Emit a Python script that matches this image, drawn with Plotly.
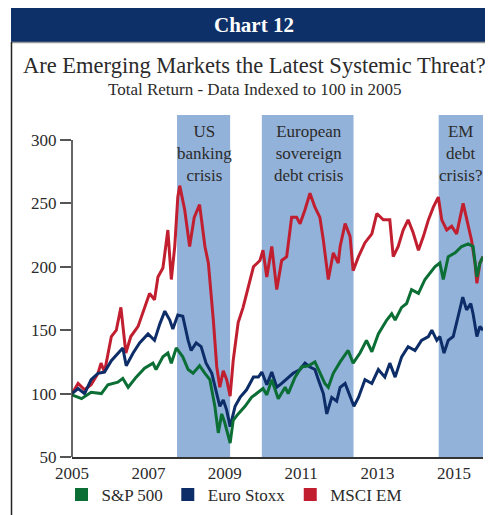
import plotly.graph_objects as go

# ---------------- data ----------------
series_names = ["S&P 500", "Euro Stoxx", "MSCI EM"]
series_colors = ["#0b6e35", "#0d2d69", "#c11f30"]

em_x = [2005.00, 2005.16, 2005.33, 2005.50, 2005.68, 2005.76, 2005.85, 2006.03, 2006.16, 2006.28,
        2006.41, 2006.54, 2006.73, 2006.90, 2007.03, 2007.16, 2007.25, 2007.38, 2007.51, 2007.60,
        2007.69, 2007.77, 2007.82, 2007.95, 2008.08, 2008.20, 2008.34, 2008.48, 2008.57, 2008.70,
        2008.79, 2008.87, 2008.96, 2009.05, 2009.14, 2009.22, 2009.35, 2009.48, 2009.62, 2009.75,
        2009.92, 2010.00, 2010.10, 2010.23, 2010.36, 2010.49, 2010.62, 2010.75, 2010.88, 2010.97,
        2011.10, 2011.23, 2011.36, 2011.49, 2011.58, 2011.71, 2011.84, 2011.97, 2012.02, 2012.15,
        2012.28, 2012.36, 2012.50, 2012.67, 2012.85, 2012.98, 2013.15, 2013.32, 2013.41, 2013.54,
        2013.67, 2013.80, 2013.93, 2014.07, 2014.20, 2014.33, 2014.46, 2014.59, 2014.68, 2014.81,
        2014.94, 2015.07, 2015.24, 2015.37, 2015.46, 2015.55, 2015.60, 2015.68, 2015.76]
em_y = [100, 108, 103, 107, 116, 124, 117, 145, 150, 168,
        132, 145, 153, 168, 179, 174, 192, 199, 229, 190,
        216, 255, 264, 245, 216, 239, 249, 216, 203, 158,
        121, 105, 118, 111, 98, 126, 156, 168, 184, 200,
        205, 213, 192, 216, 182, 205, 208, 239, 239, 234,
        245, 258, 247, 239, 221, 190, 211, 203, 216, 234,
        224, 197, 208, 219, 226, 242, 237, 237, 208, 216,
        229, 237, 227, 213, 224, 237, 247, 255, 237, 229,
        232, 226, 250, 234, 221, 203, 187, 203, 208]

eu_x = [2005.00, 2005.16, 2005.33, 2005.50, 2005.68, 2005.85, 2006.03, 2006.20, 2006.33, 2006.42,
        2006.60, 2006.77, 2006.99, 2007.16, 2007.30, 2007.43, 2007.56, 2007.64, 2007.77, 2007.90,
        2008.04, 2008.12, 2008.25, 2008.38, 2008.51, 2008.66, 2008.79, 2008.87, 2008.96, 2009.05,
        2009.14, 2009.27, 2009.40, 2009.57, 2009.75, 2009.88, 2009.97, 2010.10, 2010.23, 2010.36,
        2010.49, 2010.66, 2010.79, 2010.97, 2011.10, 2011.23, 2011.36, 2011.45, 2011.58, 2011.67,
        2011.80, 2011.93, 2012.02, 2012.15, 2012.28, 2012.38, 2012.50, 2012.67, 2012.85, 2013.02,
        2013.19, 2013.32, 2013.46, 2013.63, 2013.80, 2013.98, 2014.15, 2014.33, 2014.42, 2014.55,
        2014.63, 2014.74, 2014.85, 2014.98, 2015.11, 2015.23, 2015.33, 2015.44, 2015.50, 2015.60,
        2015.68, 2015.76]
eu_y = [100, 104, 100, 111, 116, 117, 126, 132, 136, 122,
        132, 140, 147, 142, 155, 165, 158, 151, 162, 161,
        142, 134, 140, 137, 124, 116, 100, 90, 95, 87,
        74, 90, 97, 103, 113, 113, 117, 107, 117, 105,
        108, 113, 116, 119, 124, 121, 119, 111, 100, 84,
        97, 94, 105, 108, 97, 90, 97, 111, 108, 119,
        113, 124, 113, 129, 137, 134, 142, 145, 150, 142,
        145, 132, 142, 145, 161, 176, 166, 171, 163, 145,
        153, 150]

sp_x = [2005.00, 2005.25, 2005.50, 2005.77, 2005.94, 2006.20, 2006.33, 2006.47, 2006.68, 2006.90,
        2007.12, 2007.20, 2007.38, 2007.51, 2007.60, 2007.73, 2007.90, 2008.04, 2008.17, 2008.34,
        2008.48, 2008.61, 2008.74, 2008.83, 2008.92, 2009.00, 2009.14, 2009.22, 2009.35, 2009.53,
        2009.70, 2009.88, 2010.00, 2010.10, 2010.23, 2010.40, 2010.58, 2010.66, 2010.84, 2011.01,
        2011.19, 2011.36, 2011.49, 2011.62, 2011.71, 2011.84, 2012.02, 2012.23, 2012.36, 2012.54,
        2012.71, 2012.85, 2013.02, 2013.24, 2013.37, 2013.46, 2013.63, 2013.76, 2013.89, 2014.07,
        2014.24, 2014.37, 2014.50, 2014.63, 2014.72, 2014.85, 2015.03, 2015.20, 2015.37, 2015.50,
        2015.60, 2015.68, 2015.76]
sp_y = [99, 96, 101, 100, 107, 109, 112, 105, 113, 120,
        124, 119, 129, 132, 124, 136, 129, 119, 116, 122,
        116, 111, 90, 69, 84, 77, 61, 79, 84, 90,
        97, 101, 104, 99, 111, 96, 105, 100, 113, 121,
        122, 125, 117, 108, 105, 116, 125, 134, 124, 132,
        142, 133, 147, 158, 163, 158, 168, 171, 182, 179,
        190, 195, 200, 203, 190, 208, 211, 216, 218, 216,
        192, 203, 208]

crisis_labels = ["US<br>banking<br>crisis", "European<br>sovereign<br>debt crisis", "EM<br>debt<br>crisis?"]
crisis_start = [2007.75, 2009.97, 2014.60]
crisis_end = [2009.14, 2012.37, 2015.76]
crisis_label_x = [2008.46, 2011.18, 2015.18]

year_ticks = [2005, 2007, 2009, 2011, 2013, 2015]
value_ticks = [50, 100, 150, 200, 250, 300]

title_text = "Are Emerging Markets the Latest Systemic Threat?"
subtitle_text = "Total Return - Data Indexed to 100 in 2005"
header_text = "Chart 12"

# ---------------- figure ----------------
SERIF = "Liberation Serif, Times New Roman, serif"
TXT = "#2b2b2b"
SHADE = "#93b2d9"
NAVY = "#0e3068"

fig = go.Figure()

xs = [sp_x, eu_x, em_x]
ys = [sp_y, eu_y, em_y]
# draw MSCI EM first, then Euro Stoxx, then S&P on top
for i in [2, 1, 0]:
    fig.add_trace(go.Scatter(x=xs[i], y=ys[i], mode="lines", name=series_names[i],
                             line=dict(color=series_colors[i], width=3),
                             showlegend=False, legendgroup=series_names[i]))
for i in range(3):
    fig.add_trace(go.Scatter(x=[None], y=[None], mode="markers", name=series_names[i],
                             marker=dict(symbol="square", size=13, color=series_colors[i]),
                             showlegend=True, legendgroup=series_names[i]))

y_top = 319.7
shapes = []
for s, e in zip(crisis_start, crisis_end):
    shapes.append(dict(type="rect", xref="x", yref="y", x0=s, x1=e, y0=50, y1=y_top,
                       fillcolor=SHADE, line=dict(width=0), layer="below"))

# y axis line only from 50 to 300
shapes.append(dict(type="line", xref="paper", yref="y", x0=0, x1=0, y0=50, y1=300,
                   line=dict(color="#333", width=1.5)))

# page pixel -> paper coords (plot area spans page px 72..483 x 115..457)
PW, PH = 411.0, 342.0
def px_x(p):
    return (p - 72) / PW
def px_y(p):
    return (457 - p) / PH

shapes.append(dict(type="rect", xref="paper", yref="paper", x0=px_x(11), x1=px_x(500),
                   y0=px_y(42), y1=px_y(5), fillcolor=NAVY, line=dict(width=0)))
shapes.append(dict(type="line", xref="paper", yref="paper", x0=px_x(11), x1=px_x(500),
                   y0=px_y(42.5), y1=px_y(42.5), line=dict(color="#9a9a9a", width=1.5)))
shapes.append(dict(type="line", xref="paper", yref="paper", x0=px_x(11.5), x1=px_x(11.5),
                   y0=px_y(42), y1=px_y(520), line=dict(color="#222", width=1.5)))

annotations = [
    dict(text="<b>" + header_text + "</b>", xref="paper", yref="paper", x=px_x(254), y=px_y(25),
         showarrow=False, font=dict(family=SERIF, size=21, color="white"),
         xanchor="center", yanchor="middle"),
    dict(text=title_text, xref="paper", yref="paper", x=px_x(254), y=px_y(66),
         showarrow=False, font=dict(family=SERIF, size=22.5, color=TXT),
         xanchor="center", yanchor="middle", borderpad=0),
    dict(text=subtitle_text, xref="paper", yref="paper", x=px_x(254), y=px_y(90),
         showarrow=False, font=dict(family=SERIF, size=17, color=TXT),
         xanchor="center", yanchor="middle", borderpad=0),
]
for lab, lx in zip(crisis_labels, crisis_label_x):
    annotations.append(dict(text=lab, xref="x", yref="paper", x=lx, y=px_y(153),
                            showarrow=False, align="center",
                            font=dict(family=SERIF, size=17, color=TXT),
                            xanchor="center", yanchor="middle"))

# the page body adds an 8px margin, so the figure is 8px smaller on each axis
fig.update_layout(
    width=485, height=507,
    margin=dict(l=64, r=10, t=107, b=58, autoexpand=False),
    paper_bgcolor="white", plot_bgcolor="white",
    font=dict(family=SERIF, size=17, color=TXT),
    shapes=shapes, annotations=annotations,
    showlegend=True,
    legend=dict(orientation="h", x=-0.0255, y=px_y(495), xanchor="left", yanchor="middle",
                font=dict(family=SERIF, size=17, color=TXT), bgcolor="rgba(0,0,0,0)",
                itemsizing="trace", traceorder="normal"),
    xaxis=dict(range=[2005, 2015.76], tickmode="array", tickvals=year_ticks,
               ticktext=[str(t) for t in year_ticks], showgrid=False, zeroline=False,
               showline=True, linecolor="#333", linewidth=1.5, ticks="",
               tickfont=dict(family=SERIF, size=17, color=TXT)),
    yaxis=dict(range=[50, y_top], tickmode="array", tickvals=value_ticks,
               ticktext=[str(t) for t in value_ticks], showgrid=False, zeroline=False,
               showline=False, ticks="outside", ticklen=11, tickwidth=1.5, tickcolor="#555",
               tickfont=dict(family=SERIF, size=17, color=TXT)),
)

fig.write_html("out.html")
